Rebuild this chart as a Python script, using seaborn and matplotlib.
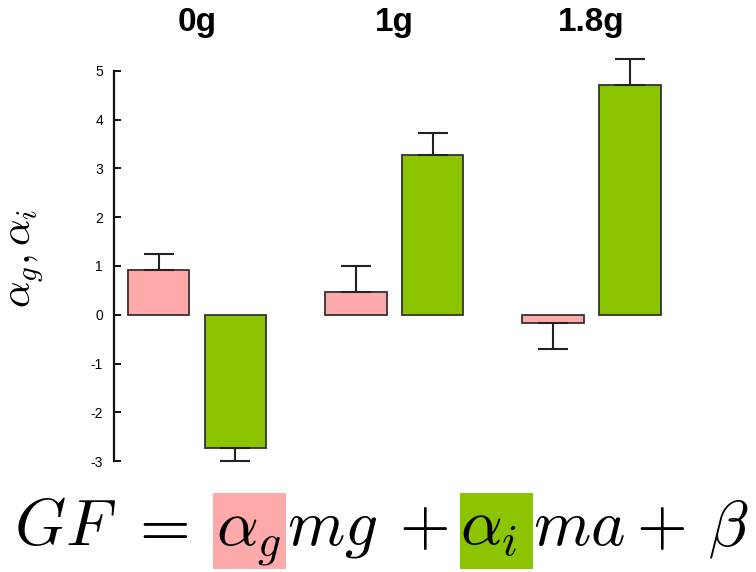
import numpy as np
import pandas as pd
import matplotlib
matplotlib.use("Agg")
import matplotlib.pyplot as plt
import seaborn as sns

# values
conditions = ["0g", "1g", "1.8g"]
coef_names = ["alpha_g", "alpha_i"]
alpha_g = [0.92, 0.47, -0.17]
alpha_i = [-2.73, 3.28, 4.72]
alpha_g_err = [0.33, 0.53, 0.53]
alpha_i_err = [0.27, 0.45, 0.53]
y_ticks = [-3, -2, -1, 0, 1, 2, 3, 4, 5]

pink = "#ffaaaa"
green = "#8bc400"

sns.set_theme(style="white")
plt.rcParams["font.family"] = ["Liberation Sans", "DejaVu Sans"]
plt.rcParams["mathtext.fontset"] = "cm"
plt.rcParams["text.color"] = "black"
plt.rcParams["axes.labelcolor"] = "black"
plt.rcParams["ytick.color"] = "black"

df = pd.DataFrame({
    "cond": conditions * 2,
    "coef": [coef_names[0]] * 3 + [coef_names[1]] * 3,
    "value": alpha_g + alpha_i,
})

fig = plt.figure(figsize=(7.56, 5.72), dpi=100)
ax = fig.add_axes([0.151, 0.194, 0.741, 0.682])

sns.barplot(data=df, x="cond", y="value", hue="coef", order=conditions,
            hue_order=coef_names, palette=[pink, green], saturation=1,
            width=0.78, gap=0.2, edgecolor="#333333", linewidth=1.3,
            legend=False, ax=ax)

# one-sided error bars (away from zero)
for cont, vals, errs in zip(ax.containers, [alpha_g, alpha_i], [alpha_g_err, alpha_i_err]):
    xs = [p.get_x() + p.get_width() / 2 for p in cont.patches]
    lo = [e if v < 0 else 0 for v, e in zip(vals, errs)]
    hi = [e if v >= 0 else 0 for v, e in zip(vals, errs)]
    eb = ax.errorbar(xs, vals, yerr=[lo, hi], fmt="none", ecolor="#222222",
                     elinewidth=1.5, capsize=10.5, capthick=1.5, zorder=1)
    for artist in eb.lines[1] + eb.lines[2]:
        artist.set_clip_on(False)

ax.set_ylim(-3, 5)
ax.set_xlim(-0.42, 2.42)
ax.set_yticks(y_ticks)
ax.set_yticklabels([str(t) for t in y_ticks])
ax.tick_params(axis="y", direction="in", length=5, width=1.3, labelsize=10,
               left=True, pad=8, colors="black")
ax.set_xticks([])
ax.set_xlabel("")
ax.set_ylabel(r"$\alpha_g, \alpha_i$", fontsize=30)
ax.yaxis.set_label_coords(-0.122, 0.52)
for s in ["top", "right", "bottom"]:
    ax.spines[s].set_visible(False)
ax.spines["left"].set_linewidth(1.6)
ax.spines["left"].set_color("#111111")

# condition labels above the groups
for i, c in enumerate(conditions):
    ax.text(i, 1.103, c, transform=ax.get_xaxis_transform(), ha="center",
            va="baseline", fontsize=24, fontweight="bold", color="black")

# model equation, built piece by piece so the coefficients can be highlighted
W, H = fig.bbox.width, fig.bbox.height
eq_fs = 47
baseline = 27
eq_pieces = [r"$GF$", r"$=$", r"$\alpha_g$", r"$mg$", r"$+$", r"$\alpha_i$",
             r"$ma$", r"$+$", r"$\beta$"]
eq_left = [14, 128, 216, 287, 399, 460, 533, 636, 708]
for s, x in zip(eq_pieces, eq_left):
    fig.text(x / W, baseline / H, s, fontsize=eq_fs, ha="left", va="baseline",
             color="black", zorder=5)

for x0, x1, col in [(213, 286, pink), (460, 533, green)]:
    fig.patches.append(plt.Rectangle((x0 / W, 3 / H), (x1 - x0) / W, 76 / H,
                                     transform=fig.transFigure, facecolor=col,
                                     edgecolor="none", zorder=1))

fig.savefig("out.png", dpi=100, facecolor="white")
